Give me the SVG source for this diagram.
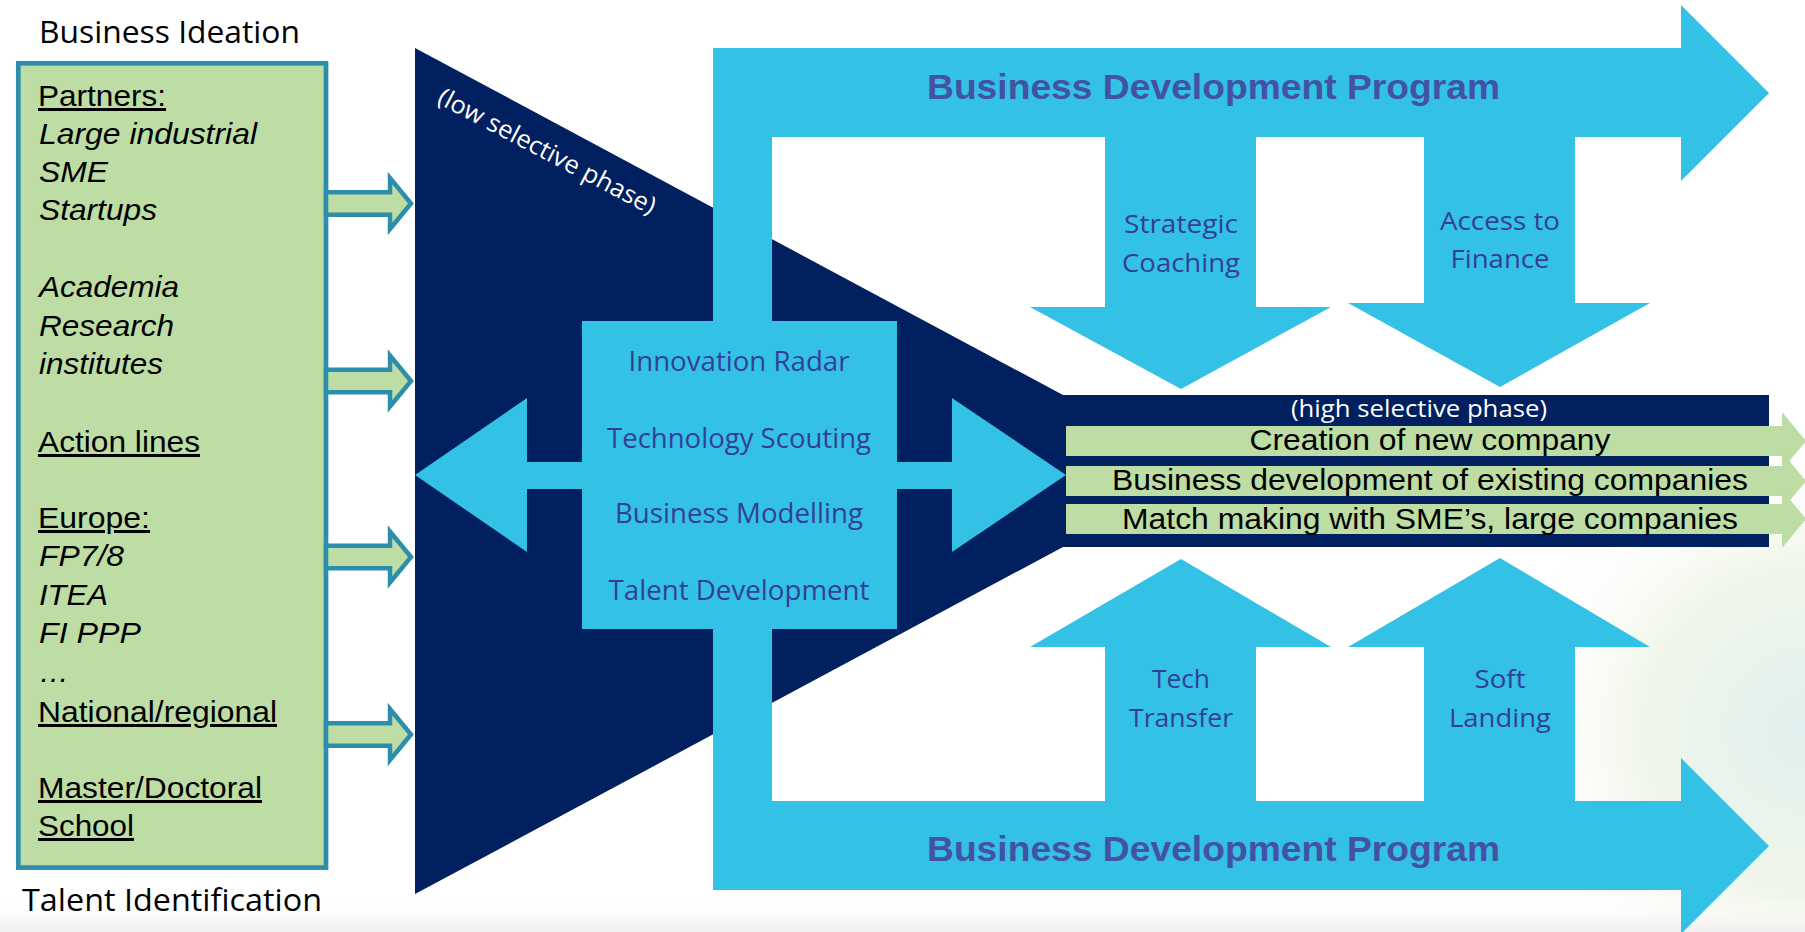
<svg xmlns="http://www.w3.org/2000/svg" width="1805" height="932" viewBox="0 0 1805 932">
  <defs>
    <radialGradient id="glow" cx="1805" cy="730" r="300" gradientUnits="userSpaceOnUse">
      <stop offset="0" stop-color="#e0f0ee"/>
      <stop offset="0.55" stop-color="#f1f6ea"/>
      <stop offset="1" stop-color="#ffffff" stop-opacity="0"/>
    </radialGradient>
    <linearGradient id="floor" x1="0" y1="0" x2="0" y2="1">
      <stop offset="0" stop-color="#ffffff" stop-opacity="0"/>
      <stop offset="1" stop-color="#eeefec"/>
    </linearGradient>
    <style>
      .navy { fill: #002060; }
      .cyan { fill: #33C1E6; }
      .green { fill: #BDDDA4; }
      .boxtxt { font-family: "Liberation Sans", Arial, sans-serif; font-size: 30px; fill: #000; }
      .it { font-style: italic; }
      .ul { text-decoration: underline; }
      .cal { font-family: "Open Sans", "Noto Sans", sans-serif; }
      .lbl { font-family: "Open Sans", "Noto Sans", sans-serif; fill: #333F96; text-anchor: middle; }
      .title { font-family: "Liberation Sans", Arial, sans-serif; font-weight: bold; font-size: 35px; fill: #4352A3; }
      .band { font-family: "Liberation Sans", Arial, sans-serif; font-size: 30px; fill: #000; text-anchor: middle; }
      .small-arrow { fill: #BDDDA4; stroke: #2C8EAB; stroke-width: 4.5; stroke-linejoin: miter; }
    </style>
  </defs>

  <rect x="0" y="0" width="1805" height="932" fill="#ffffff"/>
  <rect x="1450" y="420" width="355" height="512" fill="url(#glow)"/>
  <rect x="0" y="898" width="1805" height="34" fill="url(#floor)"/>

  <text class="cal" x="39" y="43" font-size="31" textLength="261" lengthAdjust="spacingAndGlyphs" fill="#000">Business Ideation</text>
  <text class="cal" x="22" y="911" font-size="31" textLength="300" lengthAdjust="spacingAndGlyphs" fill="#000">Talent Identification</text>

  <g id="partners-box">
    <rect x="18.3" y="63.3" width="307.7" height="804.3" fill="#BDDDA4" stroke="#2C8EAB" stroke-width="4.7"/>
    <text class="boxtxt ul" x="38" y="106" textLength="128" lengthAdjust="spacingAndGlyphs">Partners:</text>
    <text class="boxtxt it" x="39" y="144" textLength="218" lengthAdjust="spacingAndGlyphs">Large industrial</text>
    <text class="boxtxt it" x="39" y="182" textLength="69" lengthAdjust="spacingAndGlyphs">SME</text>
    <text class="boxtxt it" x="39" y="220" textLength="118" lengthAdjust="spacingAndGlyphs">Startups</text>
    <text class="boxtxt it" x="39" y="297" textLength="140" lengthAdjust="spacingAndGlyphs">Academia</text>
    <text class="boxtxt it" x="39" y="336" textLength="135" lengthAdjust="spacingAndGlyphs">Research</text>
    <text class="boxtxt it" x="39" y="374" textLength="124" lengthAdjust="spacingAndGlyphs">institutes</text>
    <text class="boxtxt ul" x="38" y="452" textLength="162" lengthAdjust="spacingAndGlyphs">Action lines</text>
    <text class="boxtxt ul" x="38" y="528" textLength="112" lengthAdjust="spacingAndGlyphs">Europe:</text>
    <text class="boxtxt it" x="39" y="566" textLength="85" lengthAdjust="spacingAndGlyphs">FP7/8</text>
    <text class="boxtxt it" x="39" y="605" textLength="69" lengthAdjust="spacingAndGlyphs">ITEA</text>
    <text class="boxtxt it" x="39" y="643" textLength="102" lengthAdjust="spacingAndGlyphs">FI PPP</text>
    <text class="boxtxt it" x="39" y="682">…</text>
    <text class="boxtxt ul" x="38" y="722" textLength="239" lengthAdjust="spacingAndGlyphs">National/regional</text>
    <text class="boxtxt ul" x="38" y="798" textLength="224" lengthAdjust="spacingAndGlyphs">Master/Doctoral</text>
    <text class="boxtxt ul" x="38" y="836" textLength="96" lengthAdjust="spacingAndGlyphs">School</text>
  </g>

  <g id="connectors">
    <polygon class="small-arrow" points="326,192.2 390,192.2 390,178 411,203.5 390,229 390,214.8 326,214.8"/>
    <polygon class="small-arrow" points="326,369.7 390,369.7 390,355.5 411,381 390,406.5 390,392.3 326,392.3"/>
    <polygon class="small-arrow" points="326,545.7 390,545.7 390,531.5 411,557 390,582.5 390,568.3 326,568.3"/>
    <polygon class="small-arrow" points="326,723.2 390,723.2 390,709 411,734.5 390,760 390,745.8 326,745.8"/>
  </g>

  <g id="funnel">
    <polygon class="navy" points="415,48 1063,395 1769,395 1769,547 1063,547 415,894"/>
    <text class="cal" transform="translate(436,102.5) rotate(27.7)" font-size="25" textLength="242" lengthAdjust="spacingAndGlyphs" fill="#ffffff">(low selective phase)</text>
    <text class="cal" x="1419" y="417" font-size="23" text-anchor="middle" textLength="256" lengthAdjust="spacingAndGlyphs" fill="#ffffff">(high selective phase)</text>
  </g>

  <g id="program-top">
    <polygon class="cyan" points="713,48 1681,48 1681,5 1769,93 1681,181 1681,137 772,137 772,330 713,330"/>
    <text class="title" x="927" y="99" textLength="573" lengthAdjust="spacingAndGlyphs">Business Development Program</text>
  </g>

  <g id="program-bottom">
    <polygon class="cyan" points="713,620 772,620 772,801 1681,801 1681,758 1769,846 1681,934 1681,890 713,890"/>
    <text class="title" x="927" y="861" textLength="573" lengthAdjust="spacingAndGlyphs">Business Development Program</text>
  </g>

  <g id="strategic-coaching">
    <polygon class="cyan" points="1105,130 1256,130 1256,307 1331,307 1181,389 1030,307 1105,307"/>
    <text class="lbl" x="1181" y="233" font-size="26" textLength="114" lengthAdjust="spacingAndGlyphs">Strategic</text>
    <text class="lbl" x="1181" y="272" font-size="26" textLength="118" lengthAdjust="spacingAndGlyphs">Coaching</text>
  </g>

  <g id="access-to-finance">
    <polygon class="cyan" points="1424,130 1575,130 1575,303 1650,303 1500,387 1348,303 1424,303"/>
    <text class="lbl" x="1500" y="230" font-size="26" textLength="120" lengthAdjust="spacingAndGlyphs">Access to</text>
    <text class="lbl" x="1500" y="268" font-size="26" textLength="99" lengthAdjust="spacingAndGlyphs">Finance</text>
  </g>

  <g id="tech-transfer">
    <polygon class="cyan" points="1105,810 1105,647 1030,647 1181,559 1331,647 1256,647 1256,810"/>
    <text class="lbl" x="1181" y="688" font-size="26" textLength="58" lengthAdjust="spacingAndGlyphs">Tech</text>
    <text class="lbl" x="1181" y="727" font-size="26" textLength="104" lengthAdjust="spacingAndGlyphs">Transfer</text>
  </g>

  <g id="soft-landing">
    <polygon class="cyan" points="1424,810 1424,647 1348,647 1500,558 1650,647 1575,647 1575,810"/>
    <text class="lbl" x="1500" y="688" font-size="26" textLength="51" lengthAdjust="spacingAndGlyphs">Soft</text>
    <text class="lbl" x="1500" y="727" font-size="26" textLength="102" lengthAdjust="spacingAndGlyphs">Landing</text>
  </g>

  <g id="innovation-box">
    <polygon class="cyan" points="415,475 527,398 527,462 952,462 952,398 1066,475 952,552 952,489 527,489 527,552"/>
    <rect class="cyan" x="582" y="321" width="315" height="308"/>
    <text class="lbl" x="739" y="371" font-size="28" textLength="221" lengthAdjust="spacingAndGlyphs">Innovation Radar</text>
    <text class="lbl" x="739" y="448" font-size="28" textLength="264" lengthAdjust="spacingAndGlyphs">Technology Scouting</text>
    <text class="lbl" x="739" y="523" font-size="28" textLength="248" lengthAdjust="spacingAndGlyphs">Business Modelling</text>
    <text class="lbl" x="739" y="600" font-size="28" textLength="261" lengthAdjust="spacingAndGlyphs">Talent Development</text>
  </g>

  <g id="outcome-1">
    <rect class="green" x="1066" y="426" width="716" height="30"/>
    <polygon class="green" points="1782,412 1806,441 1782,470"/>
    <text class="band" x="1430" y="450" textLength="361" lengthAdjust="spacingAndGlyphs">Creation of new company</text>
  </g>
  <g id="outcome-2">
    <rect class="green" x="1066" y="466" width="716" height="30"/>
    <polygon class="green" points="1782,452 1806,481 1782,510"/>
    <text class="band" x="1430" y="490" textLength="636" lengthAdjust="spacingAndGlyphs">Business development of existing companies</text>
  </g>
  <g id="outcome-3">
    <rect class="green" x="1066" y="504" width="716" height="30"/>
    <polygon class="green" points="1782,490 1806,519 1782,548"/>
    <text class="band" x="1430" y="529" textLength="616" lengthAdjust="spacingAndGlyphs">Match making with SME’s, large companies</text>
  </g>
</svg>
